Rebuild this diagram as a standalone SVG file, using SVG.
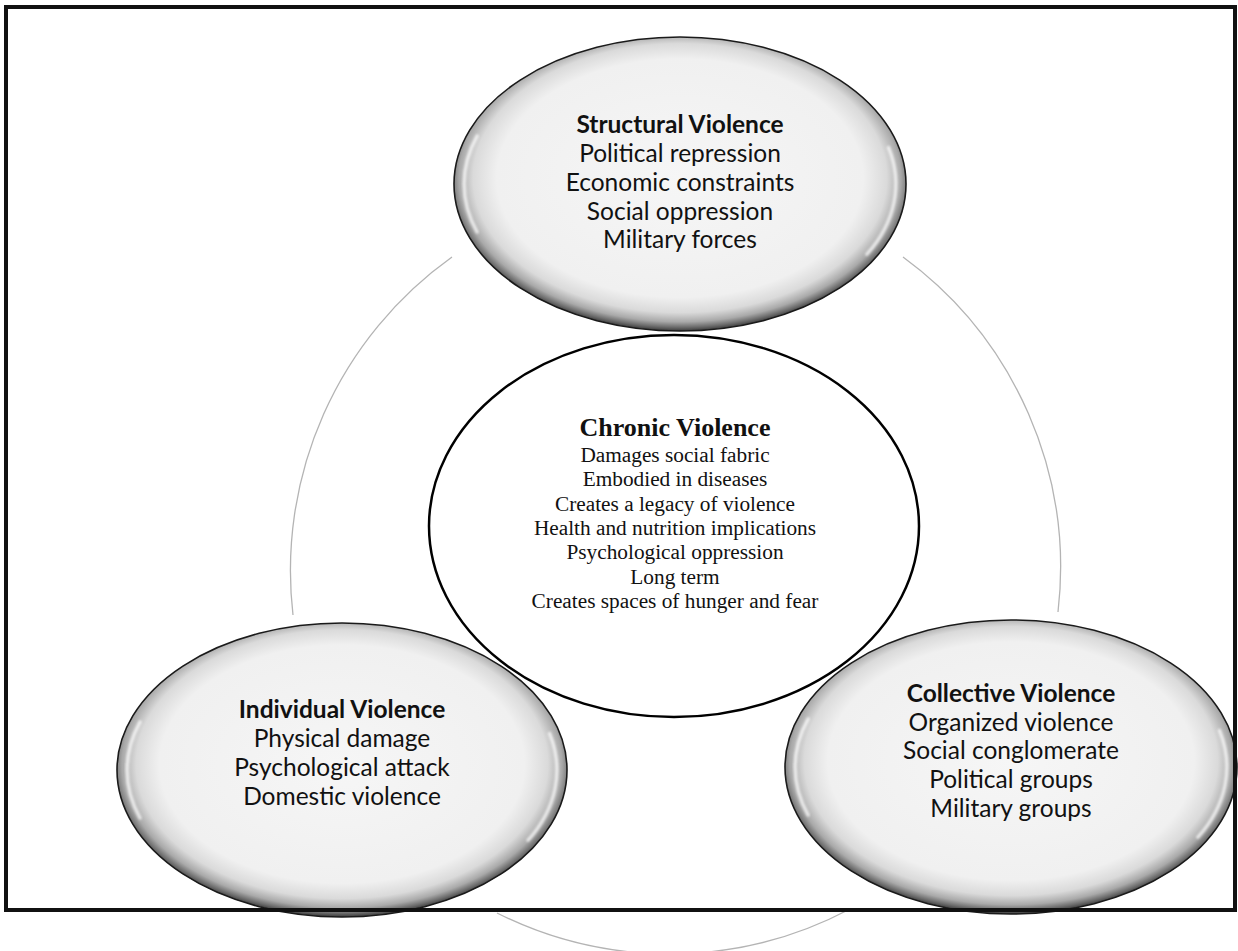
<svg xmlns="http://www.w3.org/2000/svg" width="1238" height="951" viewBox="0 0 1238 951">
<style>
.arc{fill:none;stroke:#b4b4b4;stroke-width:1.3}
.node{fill:url(#gloss);stroke:#1a1a1a;stroke-width:1.6}
.hl{fill:none;stroke:#ffffff;stroke-width:3.5;stroke-opacity:0.7;stroke-linecap:round;filter:url(#soft)}
.sans{font-family:Lato,"Open Sans","Liberation Sans",sans-serif;font-size:24.5px;fill:#111;text-anchor:middle}
.sans .t{font-weight:bold;font-size:24.5px}
.serif{font-family:"Liberation Serif","Times New Roman",serif;font-size:21.3px;fill:#111;text-anchor:middle}
.serif .t{font-weight:bold;font-size:26px}
</style>
<defs>
<radialGradient id="gloss" cx="50%" cy="48%" r="52%">
<stop offset="0" stop-color="#f6f6f6"/>
<stop offset="0.78" stop-color="#f0f0f0"/>
<stop offset="0.88" stop-color="#dadada"/>
<stop offset="0.94" stop-color="#a9a9a9"/>
<stop offset="0.975" stop-color="#6c6c6c"/>
<stop offset="1" stop-color="#3a3a3a"/>
</radialGradient>
<filter id="soft" x="-20%" y="-20%" width="140%" height="140%"><feGaussianBlur stdDeviation="1.3"/></filter>
</defs>
<rect x="0" y="0" width="1238" height="951" fill="#ffffff"/>
<g id="connectors">
<path class="arc" d="M 452 257 A 385 385 0 0 0 293 615"/>
<path class="arc" d="M 903 257 A 385 385 0 0 1 1058 612"/>
<path class="arc" d="M 850 909 A 385 385 0 0 1 497 913"/>
</g>
<g id="structural">
<ellipse class="node" cx="680" cy="184" rx="226" ry="147"/>
<path class="hl" d="M 477.1 136 A 215.8 140.4 0 0 0 477.1 232"/>
<path class="hl" d="M 888.5 147.6 A 215.8 140.4 0 0 1 866.9 254.2"/>
<text class="sans"><tspan class="t" x="680" y="133">Structural Violence</tspan><tspan x="680" y="162">Political repression</tspan><tspan x="680" y="191">Economic constraints</tspan><tspan x="680" y="219.5">Social oppression</tspan><tspan x="680" y="248">Military forces</tspan></text>
</g>
<g id="individual">
<ellipse class="node" cx="342" cy="770" rx="225" ry="147"/>
<path class="hl" d="M 140 722 A 214.9 140.4 0 0 0 140 818"/>
<path class="hl" d="M 549.6 733.6 A 214.9 140.4 0 0 1 528.1 840.2"/>
<text class="sans"><tspan class="t" x="342" y="718">Individual Violence</tspan><tspan x="342" y="747">Physical damage</tspan><tspan x="342" y="776">Psychological attack</tspan><tspan x="342" y="805">Domestic violence</tspan></text>
</g>
<g id="collective">
<ellipse class="node" cx="1011" cy="767" rx="226" ry="147"/>
<path class="hl" d="M 808.1 719 A 215.8 140.4 0 0 0 808.1 815"/>
<path class="hl" d="M 1219.5 730.6 A 215.8 140.4 0 0 1 1197.9 837.2"/>
<text class="sans"><tspan class="t" x="1011" y="702">Collective Violence</tspan><tspan x="1011" y="731">Organized violence</tspan><tspan x="1011" y="759">Social conglomerate</tspan><tspan x="1011" y="788">Political groups</tspan><tspan x="1011" y="817">Military groups</tspan></text>
</g>
<g id="chronic">
<ellipse cx="674" cy="526" rx="245" ry="191" fill="none" stroke="#000" stroke-width="2.5"/>
<text class="serif"><tspan class="t" x="675" y="436">Chronic Violence</tspan><tspan x="675" y="462">Damages social fabric</tspan><tspan x="675" y="486">Embodied in diseases</tspan><tspan x="675" y="511">Creates a legacy of violence</tspan><tspan x="675" y="535">Health and nutrition implications</tspan><tspan x="675" y="559">Psychological oppression</tspan><tspan x="675" y="584">Long term</tspan><tspan x="675" y="608">Creates spaces of hunger and fear</tspan></text>
</g>
<g id="frame">
<rect x="6" y="7" width="1229" height="903" fill="none" stroke="#111" stroke-width="4"/>
</g>
</svg>
